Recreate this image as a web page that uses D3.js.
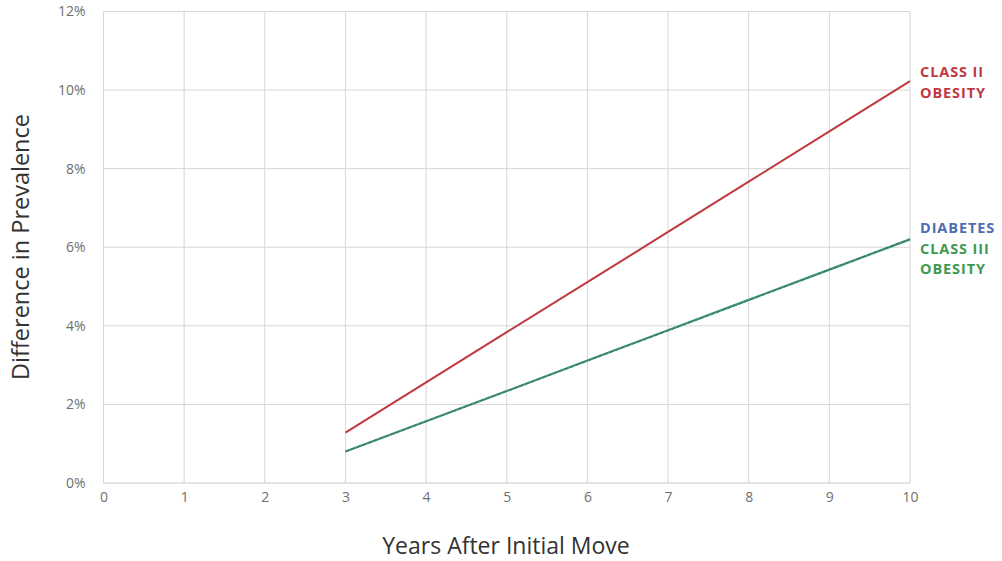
<!DOCTYPE html>
<html>
<head>
<meta charset="utf-8">
<script src="https://cdn.jsdelivr.net/npm/d3@7"></script>
<style>
  body { margin: 0; background: #fff; }
  svg text { font-family: "Open Sans", Lato, sans-serif; }
</style>
</head>
<body>
<div id="chart"></div>
<script>
// data
var years = [3, 4, 5, 6, 7, 8, 9, 10];
var classII = [1.28, 2.56, 3.84, 5.11, 6.39, 7.67, 8.95, 10.23];
var classIII = [0.80, 1.57, 2.34, 3.12, 3.89, 4.66, 5.43, 6.20];
var diabetes = [0.80, 1.57, 2.34, 3.11, 3.88, 4.65, 5.43, 6.21];
var xTicks = [0, 1, 2, 3, 4, 5, 6, 7, 8, 9, 10];
var yTicks = [0, 2, 4, 6, 8, 10, 12];

var w = 1002, h = 561;
var svg = d3.select('#chart').append('svg')
    .attr('width', w)
    .attr('height', h);

var x = d3.scaleLinear().domain([0, 10]).range([103.5, 910]);
var y = d3.scaleLinear().domain([0, 12]).range([483, 11.5]);

// grid
svg.append('g').selectAll('line.v')
    .data(xTicks).enter().append('line')
    .attr('x1', function(d) { return x(d); })
    .attr('x2', function(d) { return x(d); })
    .attr('y1', y(12)).attr('y2', y(0))
    .style('stroke', '#d6d6d6').style('stroke-width', 1);

svg.append('g').selectAll('line.h')
    .data(yTicks).enter().append('line')
    .attr('x1', x(0)).attr('x2', x(10))
    .attr('y1', function(d) { return y(d); })
    .attr('y2', function(d) { return y(d); })
    .style('stroke', function(d) { return d === 0 ? '#c8c8c8' : '#d6d6d6'; })
    .style('stroke-width', 1);

// axes (labels only)
var xAxis = svg.append('g')
    .attr('transform', 'translate(0,' + y(0) + ')')
    .call(d3.axisBottom(x).tickValues(xTicks).tickSize(0).tickPadding(9).tickFormat(d3.format('d')));
var yAxis = svg.append('g')
    .attr('transform', 'translate(' + x(0) + ',0)')
    .call(d3.axisLeft(y).tickValues(yTicks).tickSize(0).tickPadding(18).tickFormat(function(d) { return d + '%'; }));
[xAxis, yAxis].forEach(function(a) {
    a.select('.domain').remove();
    a.selectAll('text')
        .style('font-size', '14px')
        .style('fill', '#707070')
        .style('font-family', '"Open Sans", sans-serif');
});

// axis titles
svg.append('text')
    .attr('x', 506).attr('y', 554)
    .style('text-anchor', 'middle')
    .style('font-size', '23px')
    .style('fill', '#333')
    .text('Years After Initial Move');

svg.append('text')
    .attr('transform', 'translate(29,247) rotate(-90)')
    .style('text-anchor', 'middle')
    .style('font-size', '23.5px')
    .style('fill', '#333')
    .text('Difference in Prevalence');

// lines
var line = d3.line()
    .x(function(d) { return x(d[0]); })
    .y(function(d) { return y(d[1]); });

function pairs(vals) {
    return years.map(function(yr, i) { return [yr, vals[i]]; });
}

svg.append('path')
    .datum(pairs(classII))
    .attr('d', line)
    .style('fill', 'none')
    .style('stroke', '#c0393f')
    .style('stroke-width', 2);

svg.append('path')
    .datum(pairs(classIII))
    .attr('d', line)
    .style('fill', 'none')
    .style('stroke', '#3d9a68')
    .style('stroke-width', 2.2);

svg.append('path')
    .datum(pairs(diabetes))
    .attr('d', line)
    .style('fill', 'none')
    .style('stroke', '#3f6f8a')
    .style('stroke-width', 1.4)
    .style('stroke-dasharray', '4,2')
    .style('opacity', 0.8);

// series labels
var labels = [
    { t: 'CLASS II', c: '#c0393f', y: 77 },
    { t: 'OBESITY', c: '#c0393f', y: 98 },
    { t: 'DIABETES', c: '#4e6db1', y: 233 },
    { t: 'CLASS III', c: '#3e9a4f', y: 254 },
    { t: 'OBESITY', c: '#3e9a4f', y: 274 }
];
svg.append('g').selectAll('text')
    .data(labels).enter().append('text')
    .attr('x', 920)
    .attr('y', function(d) { return d.y; })
    .style('font-size', '14.5px')
    .style('font-weight', 'bold')
    .style('letter-spacing', '0.9px')
    .style('fill', function(d) { return d.c; })
    .text(function(d) { return d.t; });
</script>
</body>
</html>
